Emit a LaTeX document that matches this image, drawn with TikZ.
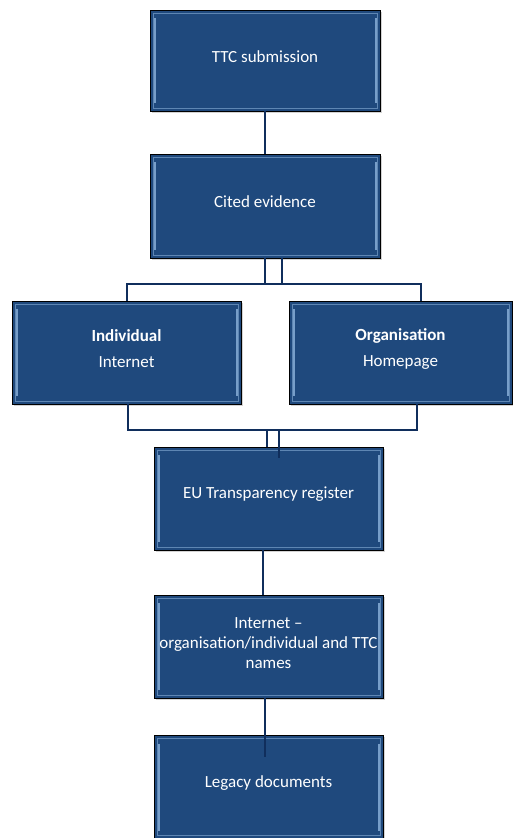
\documentclass[tikz,border=0pt]{standalone}
\usepackage{fontspec}
\setmainfont{Carlito}
\usetikzlibrary{shadows}
\definecolor{boxblue}{HTML}{1F497D}
\definecolor{bevel}{HTML}{9DC3EA}
\definecolor{linkblue}{HTML}{102E5C}
\tikzset{
  box/.style={draw=black, line width=0.9pt, fill=boxblue, minimum width=229pt, minimum height=103pt,
    inner sep=2pt, text=white, font=\fontsize{17}{20}\selectfont, align=center,
    drop shadow={shadow xshift=1.5pt, shadow yshift=-1.5pt, opacity=0.35},
    path picture={
      \draw[bevel, line width=0.7pt, opacity=0.5]
        ([xshift=3pt,yshift=-3pt]path picture bounding box.north west) rectangle
        ([xshift=-3pt,yshift=3pt]path picture bounding box.south east);
      \draw[bevel, line width=2pt, opacity=0.7]
        ([xshift=4.5pt,yshift=-8pt]path picture bounding box.north west) --
        ([xshift=4.5pt,yshift=8pt]path picture bounding box.south west);
      \draw[bevel, line width=2pt, opacity=0.7]
        ([xshift=-4.5pt,yshift=-8pt]path picture bounding box.north east) --
        ([xshift=-4.5pt,yshift=8pt]path picture bounding box.south east);
    }},
  lbl/.style={text=white, font=\fontsize{17}{20}\selectfont, align=center, inner sep=0pt},
  link/.style={draw=linkblue, line width=2pt}
}
\begin{document}
\begin{tikzpicture}[x=1pt,y=-1pt]
\useasboundingbox (0,0) rectangle (513,838);
\clip (0,0) rectangle (513,838);
\node[box, minimum width=230pt, minimum height=101pt] (ttc) at (265,60.5) {};
\node[lbl] (ttct) at (265,57) {TTC submission};
\node[box, minimum width=230pt, minimum height=104pt] (cited) at (265,206) {};
\node[lbl] (citedt) at (265,202) {Cited evidence};
\node[box, minimum width=229pt, minimum height=103pt] (ind) at (126.5,352.5) {};
\node[lbl] (indt) at (126.5,349) {\textbf{Individual}\\[6pt]Internet};
\node[box, minimum width=223pt, minimum height=103pt] (org) at (400.5,352.5) {};
\node[lbl] (orgt) at (400.5,349) {\textbf{Organisation}\\[6pt]Homepage};
\node[box] (eu) at (268.5,498.5) {};
\node[lbl] (eut) at (268.5,494) {EU Transparency register};
\node[box] (inet) at (268.5,646.5) {};
\node[lbl] (inett) at (268.5,643) {Internet --\\organisation/individual and TTC\\names};
\node[box] (leg) at (268.5,787) {};
\node[lbl] (legt) at (268.5,783) {Legacy documents};
% connectors
\draw[link] (ttc.south) -- (cited.north);
\draw[link] (cited.south) -- ++(0,26) -| (ind.north);
\draw[link] ([xshift=17pt]cited.south) -- ++(0,26) -| ([xshift=20pt]org.north);
\draw[link] ([yshift=-26pt]cited.south) -- ++(17,0);
\draw[link] ([xshift=1.5pt]ind.south) -- ++(0,26) -| ([xshift=-1.5pt]eu.north);
\draw[link] ([xshift=16.5pt]org.south) -- ++(0,26) -| ([xshift=10.5pt,yshift=-11pt]eu.north);
\draw[link] ([xshift=-1.5pt,yshift=17pt]eu.north) -- ++(12,0);
\draw[link] ([xshift=-6pt]eu.south) -- ([xshift=-6pt]inet.north);
\draw[link] ([xshift=-4pt]inet.south) -- ([xshift=-4pt,yshift=-22pt]leg.north);
\end{tikzpicture}
\end{document}
